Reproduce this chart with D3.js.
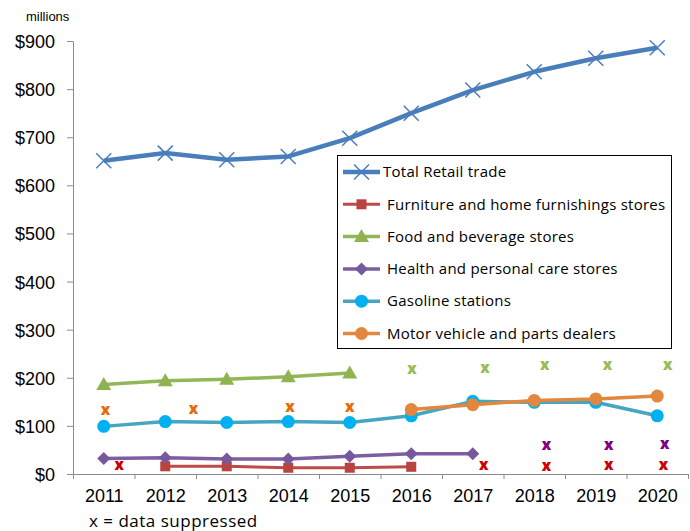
<!DOCTYPE html>
<html lang="en">
<head>
<meta charset="UTF-8">
<title>Retail trade, millions</title>
<script src="https://d3js.org/d3.v7.min.js"></script>
<style>
    body { margin: 0; background: #fff; }
    .axis path, .axis line { stroke: #8c8c8c; }
    .axis text { font-family: "Liberation Sans", Arial, sans-serif; font-size: 18px; fill: #000; }
    .legend text { font-family: "Open Sans", sans-serif; font-size: 15px; letter-spacing: 0.25px; fill: #000; }
    .supp { font-family: "Open Sans", sans-serif; font-size: 15px; font-weight: 800; }
</style>
</head>
<body>
<svg id="chart" width="690" height="531"></svg>
<script>
// data (millions of dollars), null = not shown
const years = [2011, 2012, 2013, 2014, 2015, 2016, 2017, 2018, 2019, 2020];
const yTicks = [0, 100, 200, 300, 400, 500, 600, 700, 800, 900];

const totalRetail = [651, 667, 653, 660, 698, 750, 798, 836, 864, 886];
const furniture   = [null, 16, 16, 13, 13, 15, null, null, null, null];
const foodBev     = [186, 194, 197, 202, 210, null, null, null, null, null];
const health      = [32, 34, 31, 31, 37, 42, 42, null, null, null];
const gasoline    = [99, 109, 107, 109, 107, 121, 151, 149, 149, 121];
const motor       = [null, null, null, null, null, 134, 144, 153, 156, 162];

// suppressed points: [year position, value]
const furnitureSupp = [[2011.25, 17], [2017.18, 17], [2018.2, 16], [2019.21, 17], [2020.1, 17]];
const healthSupp    = [[2018.2, 60], [2019.21, 60], [2020.12, 61]];
const foodSupp      = [[2016.01, 217], [2017.2, 219], [2018.17, 226], [2019.19, 225], [2020.17, 225]];
const motorSupp     = [[2011.03, 131], [2012.46, 135], [2014.03, 139], [2015.0, 139]];

const series = [
    { name: "Total Retail trade", values: totalRetail, color: "#4a7ebb", width: 4.5, marker: "x", fill: "#4a7ebb" },
    { name: "Furniture and home furnishings stores", values: furniture, color: "#be4b48", width: 3, marker: "square", fill: "#b8433f" },
    { name: "Food and beverage stores", values: foodBev, color: "#93b656", width: 3.5, marker: "triangle", fill: "#8fb350" },
    { name: "Health and personal care stores", values: health, color: "#7d5fa0", width: 3.5, marker: "diamond", fill: "#77599b" },
    { name: "Gasoline stations", values: gasoline, color: "#46a5c0", width: 3.5, marker: "circle", fill: "#00b0f0" },
    { name: "Motor vehicle and parts dealers", values: motor, color: "#e3873f", width: 3.5, marker: "circle", fill: "#e3873f" }
];

const suppressed = [
    { pts: furnitureSupp, color: "#cc0000" },
    { pts: healthSupp, color: "#800080" },
    { pts: foodSupp, color: "#9bbb59" },
    { pts: motorSupp, color: "#e46c0a" }
];

const svg = d3.select("#chart");
const plotLeft = 73, plotRight = 688, plotTop = 41, plotBottom = 474;

const x = d3.scaleLinear().domain([2010.5, 2020.5]).range([plotLeft, plotRight]);
const y = d3.scaleLinear().domain([0, 900]).range([plotBottom, plotTop]);

// y axis
const yAxis = svg.append("g")
    .attr("class", "axis")
    .attr("transform", `translate(${plotLeft},0)`)
    .call(d3.axisLeft(y).tickValues(yTicks).tickSize(6).tickPadding(12).tickFormat(d => "$" + d).tickSizeOuter(0));
yAxis.selectAll("text").attr("dy", "0.36em");

// x axis: ticks between categories, labels at categories
const boundaries = d3.range(years.length + 1).map(i => 2010.5 + i);
svg.append("g")
    .attr("class", "axis")
    .attr("transform", `translate(0,${plotBottom})`)
    .call(d3.axisBottom(x).tickValues(boundaries).tickSize(5).tickFormat("").tickSizeOuter(0));
const xLabels = svg.append("g")
    .attr("class", "axis")
    .attr("transform", `translate(0,${plotBottom})`)
    .call(d3.axisBottom(x).tickValues(years).tickSize(0).tickPadding(15).tickFormat(d3.format("d")));
xLabels.select(".domain").remove();

svg.append("text")
    .attr("x", 26).attr("y", 21)
    .style("font-family", "Liberation Sans, Arial, sans-serif")
    .style("font-size", "13px")
    .text("millions");

// markers
function drawMarker(g, s, cx, cy) {
    if (s.marker === "x") {
        const r = 7.5;
        g.append("path")
            .attr("d", `M${cx - r},${cy - r}L${cx + r},${cy + r}M${cx - r},${cy + r}L${cx + r},${cy - r}`)
            .attr("stroke", s.color).attr("stroke-width", 1.5).attr("fill", "none");
    } else if (s.marker === "square") {
        g.append("rect").attr("x", cx - 5).attr("y", cy - 5).attr("width", 10).attr("height", 10).attr("fill", s.fill);
    } else if (s.marker === "triangle") {
        g.append("path").attr("d", `M${cx},${cy - 7.5}L${cx + 7.5},${cy + 5.5}L${cx - 7.5},${cy + 5.5}Z`).attr("fill", s.fill);
    } else if (s.marker === "diamond") {
        g.append("path").attr("d", `M${cx},${cy - 6.5}L${cx + 6.5},${cy}L${cx},${cy + 6.5}L${cx - 6.5},${cy}Z`).attr("fill", s.fill);
    } else {
        g.append("circle").attr("cx", cx).attr("cy", cy).attr("r", 6.5).attr("fill", s.fill);
    }
}

const line = d3.line()
    .defined(d => d.v !== null)
    .x(d => x(d.year))
    .y(d => y(d.v));

series.forEach(s => {
    const pts = years.map((yr, i) => ({ year: yr, v: s.values[i] }));
    const g = svg.append("g");
    g.append("path")
        .datum(pts)
        .attr("d", line)
        .attr("fill", "none")
        .attr("stroke", s.color)
        .attr("stroke-width", s.width)
        .attr("stroke-linejoin", "round");
    pts.filter(d => d.v !== null).forEach(d => drawMarker(g, s, x(d.year), y(d.v)));
});

// suppressed "x" marks
suppressed.forEach(sp => {
    svg.append("g").selectAll("text")
        .data(sp.pts)
        .enter()
        .append("text")
        .attr("class", "supp")
        .attr("x", d => x(d[0]))
        .attr("y", d => y(d[1]))
        .attr("dy", "0.3em")
        .attr("text-anchor", "middle")
        .attr("fill", sp.color)
        .text("x");
});

// legend
const legend = svg.append("g").attr("class", "legend");
legend.append("rect")
    .attr("x", 337.5).attr("y", 155.5)
    .attr("width", 334).attr("height", 193)
    .attr("fill", "#fff").attr("stroke", "#000").attr("stroke-width", 1);
series.forEach((s, i) => {
    const ly = 172 + i * 32.3;
    legend.append("line")
        .attr("x1", 343).attr("x2", 380).attr("y1", ly).attr("y2", ly)
        .attr("stroke", s.color).attr("stroke-width", s.width);
    drawMarker(legend, s, 361.5, ly);
    legend.append("text")
        .attr("x", i === 0 ? 383 : 387).attr("y", ly)
        .attr("dy", "0.35em")
        .text(s.name);
});

svg.append("text")
    .attr("x", 89).attr("y", 527)
    .style("font-family", "Open Sans, sans-serif")
    .style("font-size", "17px")
    .style("letter-spacing", "0.5px")
    .text("x = data suppressed");
</script>
</body>
</html>
